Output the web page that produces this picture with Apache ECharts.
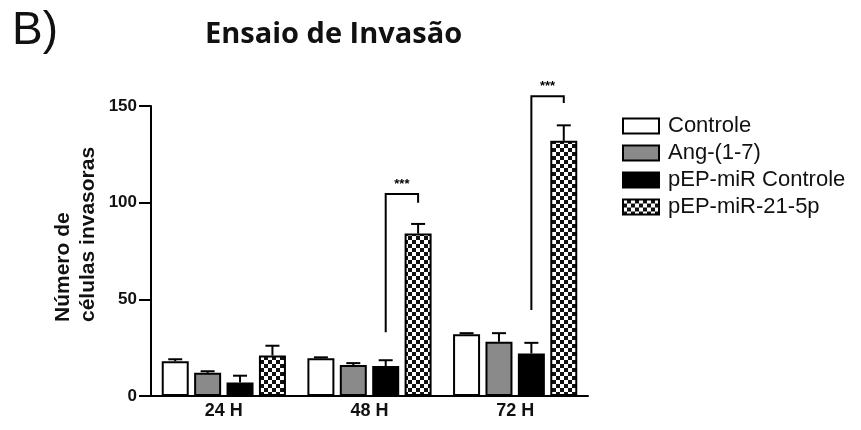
<!DOCTYPE html>
<html>
<head>
<meta charset="utf-8">
<script src="https://cdn.jsdelivr.net/npm/echarts@6/dist/echarts.min.js"></script>
<style>
  html, body { margin: 0; padding: 0; background: #fff; }
  #chart { width: 861px; height: 430px; }
</style>
</head>
<body>
<div id="chart"></div>
<script>
// Invasion assay: invading cells per time point and condition
const categories = ['24 H', '48 H', '72 H'];
const seriesNames = ['Controle', 'Ang-(1-7)', 'pEP-miR Controle', 'pEP-miR-21-5p'];

const controle      = [18, 19.5, 32];
const ang17         = [12, 16, 28];
const pepControle   = [7, 15.5, 22];
const pep21         = [21, 84, 132];

// upper SEM for each bar
const controleErr    = [1, 0.5, 0.5];
const ang17Err       = [0.8, 1, 4.5];
const pepControleErr = [3.5, 3, 5.5];
const pep21Err       = [5, 5, 8];

// significance brackets: [category, fromBar, toBar, base, top, drop, label]
const brackets = [
  [1, 2, 3, 33, 104.5, 100, '***'],
  [2, 2, 3, 44.5, 155, 151.5, '***']
];

const yTicks = [0, 50, 100, 150];

const BAR_W = 27;
const BAR_GAP = 0.2;     // fraction of bar width between neighbouring bars
const N_BARS = seriesNames.length;

function barOffset(i) {
  const gap = BAR_W * BAR_GAP;
  const total = N_BARS * BAR_W + (N_BARS - 1) * gap;
  return -total / 2 + i * (BAR_W + gap) + BAR_W / 2;
}

function checkerPattern() {
  const c = document.createElement('canvas');
  c.width = 8; c.height = 8;
  const ctx = c.getContext('2d');
  ctx.fillStyle = '#111';
  ctx.fillRect(0, 0, 8, 8);
  ctx.fillStyle = '#fff';
  ctx.fillRect(0, 0, 4, 4);
  ctx.fillRect(4, 4, 4, 4);
  return { image: c, repeat: 'repeat' };
}

const fills = ['#ffffff', '#8a8a8a', '#000000', checkerPattern()];
const values = [controle, ang17, pepControle, pep21];
const errors = [controleErr, ang17Err, pepControleErr, pep21Err];

const barSeries = seriesNames.map((name, i) => ({
  name: name,
  type: 'bar',
  barWidth: BAR_W,
  barGap: (BAR_GAP * 100) + '%',
  data: values[i],
  itemStyle: { color: fills[i], borderColor: '#000', borderWidth: 2 },
  z: 2
}));

const errSeries = seriesNames.map((name, i) => ({
  type: 'custom',
  name: name + ' SEM',
  clip: false,
  z: 3,
  silent: true,
  data: values[i].map((v, k) => [k, v, errors[i][k]]),
  renderItem: function (params, api) {
    const base = api.coord([api.value(0), api.value(1)]);
    const top = api.coord([api.value(0), api.value(1) + api.value(2)]);
    const x = base[0] + barOffset(i);
    const cap = 7;
    return {
      type: 'group',
      children: [
        { type: 'line', shape: { x1: x, y1: base[1], x2: x, y2: top[1] }, style: { stroke: '#000', lineWidth: 2 } },
        { type: 'line', shape: { x1: x - cap, y1: top[1], x2: x + cap, y2: top[1] }, style: { stroke: '#000', lineWidth: 2 } }
      ]
    };
  }
}));

const bracketSeries = {
  type: 'custom',
  name: 'signif',
  clip: false,
  silent: true,
  z: 4,
  data: brackets,
  renderItem: function (params, api) {
    const cat = api.value(0);
    const b = api.coord([cat, api.value(3)]);
    const t = api.coord([cat, api.value(4)]);
    const d = api.coord([cat, api.value(5)]);
    const x1 = b[0] + barOffset(api.value(1));
    const x2 = b[0] + barOffset(api.value(2));
    const label = brackets[params.dataIndex][6];
    return {
      type: 'group',
      children: [
        { type: 'polyline', shape: { points: [[x1, b[1]], [x1, t[1]], [x2, t[1]], [x2, d[1]]] },
          style: { stroke: '#000', lineWidth: 2, fill: null } },
        { type: 'text', style: { text: label, x: (x1 + x2) / 2, y: t[1] - 3, align: 'center', verticalAlign: 'bottom',
          fill: '#000', font: 'bold 13px "Liberation Sans", Arial, sans-serif' } }
      ]
    };
  }
};

const chart = echarts.init(document.getElementById('chart'), null, { renderer: 'canvas' });
chart.setOption({
  animation: false,
  backgroundColor: '#ffffff',
  title: {
    text: 'Ensaio de Invasão',
    left: 200,
    top: 15,
    textStyle: { fontFamily: '"Open Sans"', fontWeight: 'bold', fontSize: 29, color: '#111' }
  },
  graphic: [
    { type: 'text', left: 12, top: 8,
      style: { text: 'B)', fill: '#111', font: '46px "Liberation Sans", Arial, sans-serif' } },
    { type: 'text', x: 51, y: 322, rotation: Math.PI / 2, originX: 0, originY: 0,
      style: { text: 'Número de\ncélulas invasoras', fill: '#111', lineHeight: 25,
        font: 'bold 21px "Liberation Sans", Arial, sans-serif', align: 'left', verticalAlign: 'top' } }
  ],
  legend: {
    orient: 'vertical',
    left: 617,
    top: 110,
    icon: 'rect',
    itemWidth: 36,
    itemHeight: 15,
    itemGap: 5,
    data: seriesNames,
    itemStyle: { borderColor: '#000', borderWidth: 2 },
    textStyle: { fontFamily: '"Liberation Sans", Arial, sans-serif', fontSize: 22, color: '#111', padding: [0, 0, 0, 4] }
  },
  grid: { left: 151, right: 273, top: 106, bottom: 34, containLabel: false },
  xAxis: {
    type: 'category',
    data: categories,
    axisLine: { lineStyle: { color: '#000', width: 2 } },
    axisTick: { alignWithLabel: true, length: 6, lineStyle: { color: '#000', width: 2 } },
    axisLabel: { color: '#111', fontWeight: 'bold', fontSize: 18, fontFamily: '"Liberation Sans", Arial, sans-serif', margin: 6 }
  },
  yAxis: {
    type: 'value',
    min: yTicks[0],
    max: yTicks[yTicks.length - 1],
    interval: yTicks[1] - yTicks[0],
    splitLine: { show: false },
    axisLine: { show: true, lineStyle: { color: '#000', width: 2 } },
    axisTick: { show: true, length: 12, lineStyle: { color: '#000', width: 2 } },
    axisLabel: { color: '#111', fontWeight: 'bold', fontSize: 17, fontFamily: '"Liberation Sans", Arial, sans-serif', margin: 14 }
  },
  series: [...barSeries, ...errSeries, bracketSeries]
});
</script>
</body>
</html>
